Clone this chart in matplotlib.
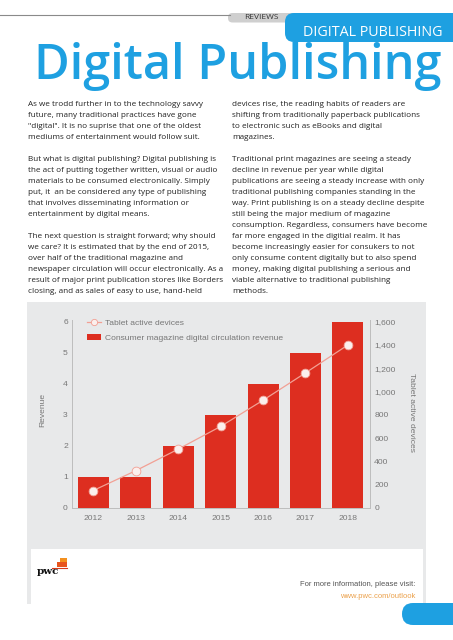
import numpy as np
import matplotlib
matplotlib.use('Agg')
import matplotlib.pyplot as plt
from matplotlib.patches import Rectangle, FancyBboxPatch
from matplotlib.lines import Line2D
from matplotlib.ticker import FuncFormatter

# chart data
years = ['2012', '2013', '2014', '2015', '2016', '2017', '2018']
revenue = [1, 1, 2, 3, 4, 5, 6]
tablets = [150, 320, 505, 700, 925, 1160, 1400]
rev_ticks = [0, 1, 2, 3, 4, 5, 6]
dev_ticks = [0, 200, 400, 600, 800, 1000, 1200, 1400, 1600]

left_col = [
    "As we trodd further in to the technology savvy",
    "future, many traditional practices have gone",
    "\"digital\". It is no suprise that one of the oldest",
    "mediums of entertainment would follow suit.",
    "",
    "But what is digital publishing? Digital publishing is",
    "the act of putting together written, visual or audio",
    "materials to be consumed electronically. Simply",
    "put, it  an be considered any type of publishing",
    "that involves disseminating information or",
    "entertainment by digital means.",
    "",
    "The next question is straight forward; why should",
    "we care? It is estimated that by the end of 2015,",
    "over half of the traditional magazine and",
    "newspaper circulation will occur electronically. As a",
    "result of major print publication stores like Borders",
    "closing, and as sales of easy to use, hand-held",
]
right_col = [
    "devices rise, the reading habits of readers are",
    "shifting from traditionally paperback publications",
    "to electronic such as eBooks and digital",
    "magazines.",
    "",
    "Traditional print magazines are seeing a steady",
    "decline in revenue per year while digital",
    "publications are seeing a steady increase with only",
    "traditional publishing companies standing in the",
    "way. Print publishing is on a steady decline despite",
    "still being the major medium of magazine",
    "consumption. Regardless, consumers have become",
    "far more engaged in the digitial realm. It has",
    "become increasingly easier for consukers to not",
    "only consume content digitally but to also spend",
    "money, making digital publishing a serious and",
    "viable alternative to traditional publishing",
    "methods.",
]

blue = '#1ea0e1'
red = '#dd2e20'
grey_txt = '#777777'
fs_chart = 6.1

W, H = 453, 640
fig = plt.figure(figsize=(W / 100, H / 100), dpi=100)
fig.patch.set_facecolor('white')

# page layer in pixel coordinates
bg = fig.add_axes([0, 0, 1, 1])
bg.set_xlim(0, W)
bg.set_ylim(H, 0)
bg.axis('off')

# header
bg.plot([0, 230], [15, 15], color='#8a8a8a', lw=0.8)
bg.add_patch(FancyBboxPatch((228, 13), 80, 9.5, boxstyle='round,pad=0,rounding_size=4.5',
                            fc='#cfcfcf', ec='none'))
bg.text(261.5, 17.8, 'REVIEWS', fontsize=6.0, color='#333333', ha='center', va='center',
        family='Open Sans')
bg.add_patch(FancyBboxPatch((285, 13), 190, 29, boxstyle='round,pad=0,rounding_size=9',
                            fc=blue, ec='none'))
bg.text(372.5, 32, 'DIGITAL PUBLISHING', fontsize=10.3, color='white', ha='center',
        va='center', family='Open Sans')
bg.text(238, 79, 'Digital Publishing', fontsize=35, fontweight='semibold', color=blue,
        ha='center', va='baseline', family='Open Sans')

# body text
for i, line in enumerate(left_col):
    bg.text(28, 104 + i * 11.05, line, fontsize=5.85, color='#222222', va='center',
            family='Open Sans')
for i, line in enumerate(right_col):
    bg.text(232, 104 + i * 11.05, line, fontsize=5.85, color='#222222', va='center',
            family='Open Sans')

# chart panel
bg.add_patch(Rectangle((27, 302), 399, 302, fc='#e8e9ea', ec='none'))
bg.add_patch(Rectangle((31, 549), 392, 56, fc='white', ec='none'))

# pwc logo and footer text
bg.add_patch(Rectangle((60, 558), 7, 5, fc='#f3901e', ec='none'))
bg.add_patch(Rectangle((57, 562), 10, 5, fc='#e8541c', ec='none'))
bg.plot([52, 67], [567.5, 567.5], color='#d93a1a', lw=0.8)
bg.text(37, 572, 'pwc', fontsize=7.5, fontweight='bold', family='DejaVu Serif',
        color='#111111', va='center')
bg.text(415, 585, 'For more information, please visit:', fontsize=5.5, color='#555555',
        ha='right', va='center', family='Liberation Sans')
bg.text(415, 596, 'www.pwc.com/outlook', fontsize=5.5, color='#eba04a',
        ha='right', va='center', family='Liberation Sans')

# page tab bottom right
bg.add_patch(FancyBboxPatch((402, 603), 70, 22, boxstyle='round,pad=0,rounding_size=11',
                            fc=blue, ec='none'))

# chart axes
x0, x1, yb, yt = 72, 370, 508, 320.1
ax = fig.add_axes([x0 / W, 1 - yb / H, (x1 - x0) / W, (yb - yt) / H])
ax.set_facecolor('none')
x = np.arange(len(years))
ax.bar(x, revenue, width=0.73, color=red, zorder=2)
ax.set_xlim(-0.5, 6.52)
ax.set_ylim(0, 6.05)
ax.set_xticks(x)
ax.set_xticklabels(years)
ax.set_yticks(rev_ticks)
for s in ['top', 'right']:
    ax.spines[s].set_visible(False)
for s in ['left', 'bottom']:
    ax.spines[s].set_color('#bdbdbd')
    ax.spines[s].set_linewidth(0.7)
ax.tick_params(length=0, labelsize=fs_chart, labelcolor=grey_txt, pad=3)
ax.tick_params(axis='x', pad=5)

ax2 = ax.twinx()
ax2.plot(x, tablets, color='#f2a094', lw=0.9, marker='o', ms=6.3, mfc='#fbefed',
         mec='#f2a094', mew=0.6, zorder=3)
ax2.set_ylim(0, 6.05 * 1600 / 6)
ax2.set_yticks(dev_ticks)
ax2.yaxis.set_major_formatter(FuncFormatter(lambda v, p: f'{int(v):,}'))
for s in ['top', 'left', 'bottom']:
    ax2.spines[s].set_visible(False)
ax2.spines['right'].set_color('#bdbdbd')
ax2.spines['right'].set_linewidth(0.7)
ax2.tick_params(length=0, labelsize=fs_chart, labelcolor=grey_txt, pad=3)

for a in (ax, ax2):
    for t in a.get_xticklabels() + a.get_yticklabels():
        t.set_family('Liberation Sans')

bg.text(43, 410, 'Revenue', rotation=90, fontsize=fs_chart, color=grey_txt, ha='center',
        va='center', family='Liberation Sans')
bg.text(412, 412, 'Tablet active devices', rotation=-90, fontsize=fs_chart, color=grey_txt,
        ha='center', va='center', family='Liberation Sans')

handles = [Line2D([], [], color='#f2a094', lw=0.9, marker='o', ms=4.5, mfc='#fbefed',
                  mec='#f2a094', mew=0.6),
           Rectangle((0, 0), 1, 1, fc=red, ec='none')]
leg = ax2.legend(handles, ['Tablet active devices',
                           'Consumer magazine digital circulation revenue'],
                 loc='upper left', bbox_to_anchor=(87, 319.5), bbox_transform=bg.transData,
                 frameon=False, handlelength=1.6, handletextpad=0.5,
                 labelspacing=0.8, borderpad=0, borderaxespad=0,
                 prop={'family': 'Liberation Sans', 'size': fs_chart})
for t in leg.get_texts():
    t.set_color(grey_txt)

fig.savefig('out.png', dpi=100)
plt.close(fig)
